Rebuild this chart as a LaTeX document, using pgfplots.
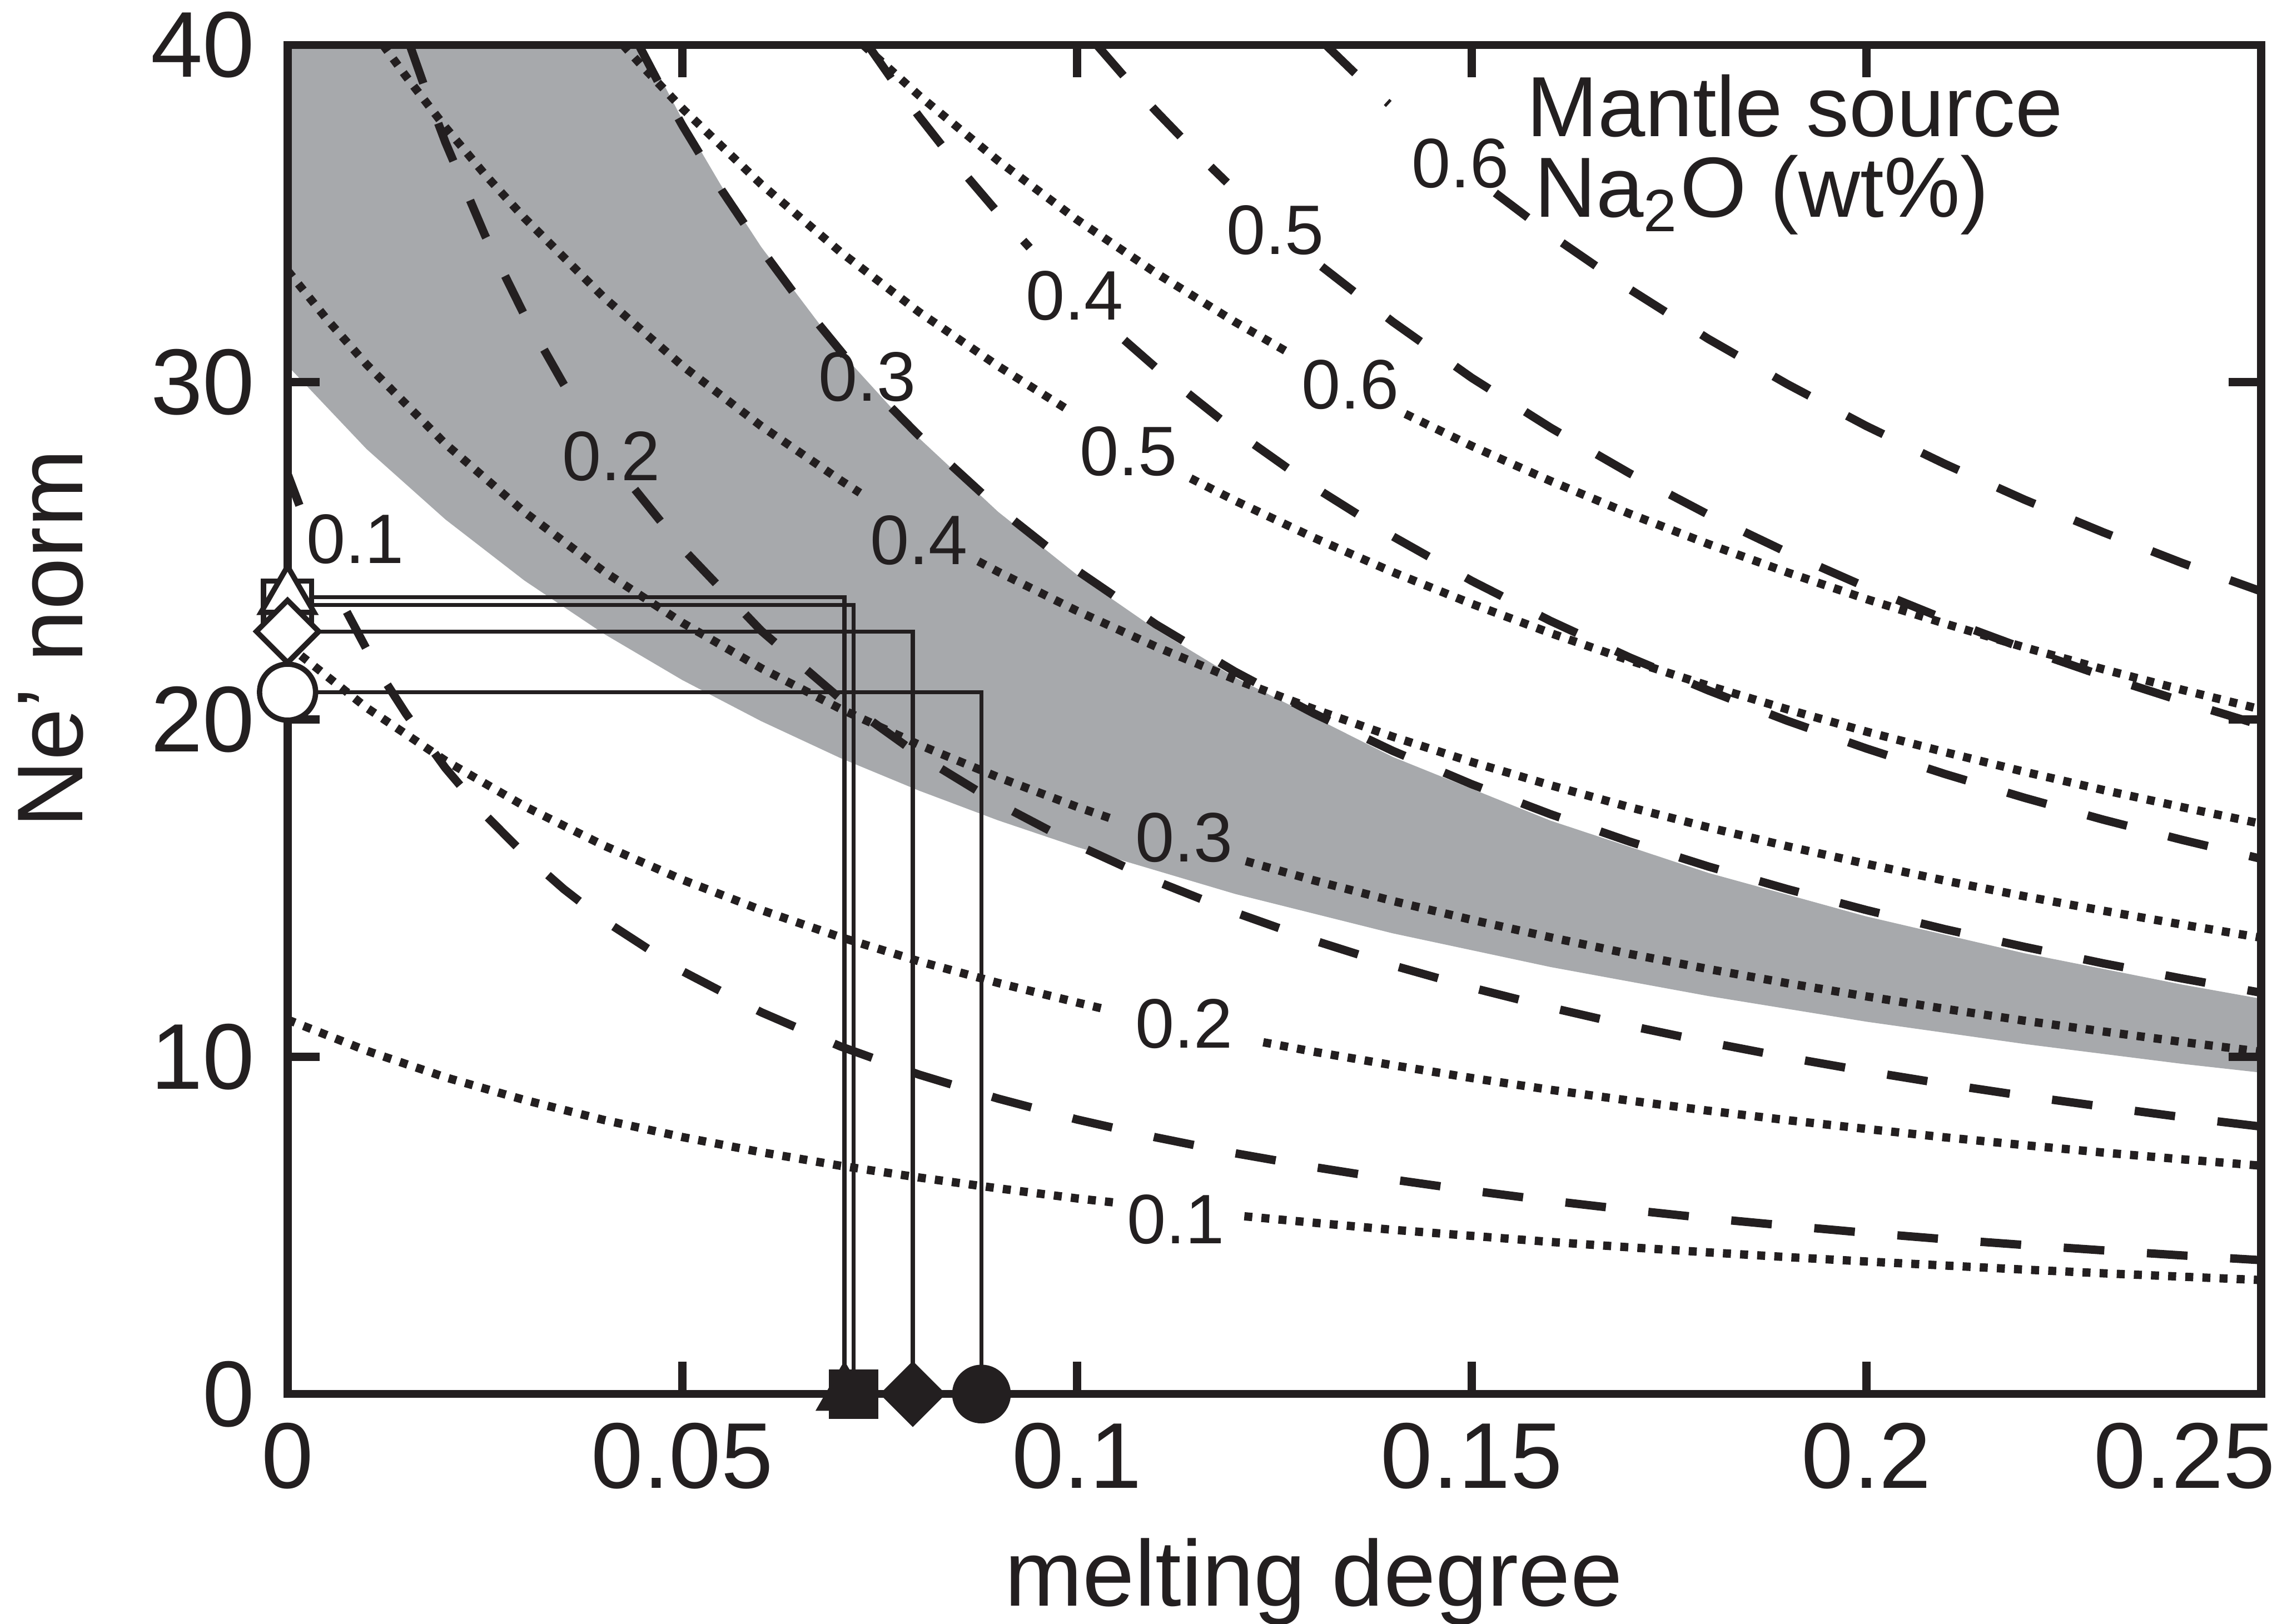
\documentclass[border=0pt]{standalone}
\usepackage{fontspec}
\setmainfont{Liberation Sans}
\usepackage{pgfplots}
\pgfplotsset{compat=1.18}

\definecolor{ink}{RGB}{35,31,32}
\definecolor{band}{RGB}{167,169,172}

\tikzset{
  dashcurve/.style={ink, line width=1.25pt, dash pattern=on 6.1pt off 6.4pt},
  dotcurve/.style={ink, line width=1.25pt, dash pattern=on 1.2pt off 1.37pt},
  link/.style={ink, line width=0.6pt},
  clabel/.style={font=\fontsize{10.5}{12}\selectfont, text=ink, inner sep=0pt},
  boxtext/.style={font=\fontsize{12.8}{14}\selectfont, text=ink, inner sep=0pt, anchor=base west},
}

\begin{document}
\begin{tikzpicture}
\begin{axis}[
  set layers=standard,
  scale only axis, width=10.397cm, height=7.109cm,
  xmin=0, xmax=0.25, ymin=0, ymax=40,
  axis line style={ink, line width=1.2pt},
  xtick={0,0.05,0.1,0.15,0.2}, xticklabels={0,0.05,0.1,0.15,0.2},
  extra x ticks={0.25}, extra x tick labels={0.25},
  extra x tick style={xticklabel style={anchor=north east, xshift=0.2cm}},
  ytick={0,10,20,30,40}, yticklabels={0,10,20,30,40},
  scaled x ticks=false,
  tick align=inside, major tick length=0.17cm,
  tick style={ink, line width=1.2pt},
  tick label style={font=\fontsize{14}{16}\selectfont, text=ink},
  xticklabel style={yshift=-0.8pt},
  yticklabel style={xshift=-1.4pt},
  xlabel={melting degree}, ylabel={Ne’ norm},
  label style={font=\fontsize{14}{16}\selectfont, text=ink},
  xlabel style={at={(axis description cs:0.52,-0.157)}, anchor=base},
  ylabel style={at={(axis description cs:-0.12,0.56)}, anchor=center},
  unbounded coords=jump,
]
\coordinate (sw) at (rel axis cs:0,0);
\coordinate (ne) at (rel axis cs:1,1);

% shaded field of the observed compositions
\addplot[on layer=axis background, fill=band, draw=none] coordinates {
 (0,40) (0.04503,40) (0.05,37.79) (0.055,35.80) (0.06,34.01) (0.07,30.91)
 (0.08,28.34) (0.09,26.16) (0.1,24.29) (0.11,22.67) (0.12,21.25) (0.14,18.89)
 (0.16,17.00) (0.18,15.45) (0.2,14.16) (0.22,13.07) (0.24,12.14) (0.25,11.72)
 (0.25,9.53) (0.24,9.79) (0.22,10.38) (0.2,11.04) (0.18,11.80) (0.16,12.66)
 (0.14,13.66) (0.12,14.83) (0.1,16.22) (0.09,17.01) (0.08,17.89) (0.07,18.86)
 (0.06,19.95) (0.05,21.17) (0.04,22.55) (0.03,24.12) (0.02,25.93) (0.01,28.02)
 (0,30.49)};

% dotted melting curves (source Na2O 0.1 ... 0.6 wt%)
\addplot[dotcurve] coordinates {
 (0,11.10) (0.01,10.18) (0.02,9.39) (0.03,8.72) (0.04,8.13) (0.05,7.62)
 (0.06,7.17) (0.07,6.77) (0.08,6.42) (0.09,6.10) (0.1,5.80) (0.1047,5.68)
 (0.113,nan) (0.1212,5.27) (0.13,5.08) (0.14,4.87) (0.15,4.69) (0.16,4.51)
 (0.17,4.35) (0.18,4.20) (0.19,4.06) (0.2,3.93) (0.21,3.81) (0.22,3.69)
 (0.23,3.58) (0.24,3.48) (0.25,3.38)};
\addplot[dotcurve] coordinates {
 (0,22.21) (0.01,20.35) (0.02,18.78) (0.03,17.43) (0.04,16.27) (0.05,15.25)
 (0.06,14.35) (0.07,13.55) (0.08,12.83) (0.09,12.19) (0.1,11.61) (0.1034,11.42)
 (0.113,nan) (0.1236,10.43) (0.13,10.15) (0.14,9.75) (0.15,9.37) (0.16,9.02)
 (0.17,8.70) (0.18,8.40) (0.19,8.12) (0.2,7.86) (0.21,7.61) (0.22,7.38)
 (0.23,7.16) (0.24,6.96) (0.25,6.77)};
\addplot[dotcurve] coordinates {
 (0,33.31) (0.005,31.86) (0.01,30.53) (0.02,28.17) (0.03,26.15) (0.04,24.40)
 (0.05,22.87) (0.06,21.52) (0.07,20.32) (0.08,19.25) (0.09,18.29) (0.1,17.41)
 (0.105,17.01) (0.113,nan) (0.1214,15.80) (0.13,15.23) (0.14,14.62) (0.15,14.06)
 (0.16,13.54) (0.17,13.05) (0.18,12.60) (0.19,12.18) (0.2,11.79) (0.21,11.42)
 (0.22,11.07) (0.23,10.75) (0.24,10.44) (0.25,10.15)};
\addplot[dotcurve] coordinates {
 (0.01209,40.00) (0.015,39.07) (0.02,37.56) (0.025,36.16) (0.03,34.87)
 (0.04,32.53) (0.05,30.49) (0.06,28.70) (0.07,27.10) (0.0725,26.72)
 (0.08,nan) (0.0875,24.69) (0.09,24.38) (0.1,23.22) (0.11,22.16) (0.12,21.19)
 (0.13,20.31) (0.14,19.49) (0.15,18.74) (0.16,18.05) (0.17,17.40) (0.18,16.80)
 (0.19,16.24) (0.2,15.72) (0.21,15.22) (0.22,14.76) (0.23,14.33) (0.24,13.92)
 (0.25,13.53)};
\addplot[dotcurve] coordinates {
 (0.04249,40.00) (0.045,39.35) (0.05,38.12) (0.06,35.87) (0.07,33.87)
 (0.08,32.08) (0.09,30.48) (0.0992,29.13) (0.107,nan) (0.1144,27.15)
 (0.12,26.49) (0.13,25.39) (0.14,24.37) (0.15,23.43) (0.16,22.56) (0.17,21.75)
 (0.18,21.00) (0.19,20.30) (0.2,19.64) (0.21,19.03) (0.22,18.45) (0.23,17.91)
 (0.24,17.40) (0.25,16.91)};
\addplot[dotcurve] coordinates {
 (0.07291,40.00) (0.08,38.50) (0.09,36.57) (0.1,34.82) (0.11,33.24)
 (0.12,31.79) (0.127,30.85) (0.134,nan) (0.1416,29.06) (0.15,28.11)
 (0.16,27.07) (0.17,26.10) (0.18,25.20) (0.19,24.36) (0.2,23.57) (0.21,22.84)
 (0.22,22.14) (0.23,21.49) (0.24,20.88) (0.25,20.30)};

% dashed melting curves (source Na2O 0.1 ... 0.6 wt%)
\addplot[dashcurve] coordinates {
 (0,27.28) (0.0015,26.35) (0.004,nan) (0.0075,23.19) (0.01,22.09) (0.0125,21.08)
 (0.015,20.17) (0.02,18.56) (0.025,17.18) (0.03,16.00) (0.035,14.97) (0.04,14.06)
 (0.05,12.54) (0.06,11.32) (0.07,10.31) (0.08,9.47) (0.09,8.76) (0.1,8.14)
 (0.11,7.61) (0.12,7.14) (0.13,6.73) (0.14,6.36) (0.15,6.03) (0.16,5.73)
 (0.17,5.46) (0.18,5.21) (0.19,4.99) (0.2,4.78) (0.21,4.59) (0.22,4.42)
 (0.23,4.26) (0.24,4.11) (0.25,3.97)};
\addplot[dashcurve] coordinates {
 (0.015482,40.00) (0.0175,38.66) (0.02,37.11) (0.025,34.36) (0.03,31.99)
 (0.035,29.93) (0.0365,29.36) (0.04,nan) (0.044,26.82) (0.05,25.08) (0.06,22.63)
 (0.07,20.62) (0.08,18.94) (0.09,17.51) (0.1,16.28) (0.11,15.21) (0.12,14.28)
 (0.13,13.45) (0.14,12.71) (0.15,12.05) (0.16,11.46) (0.17,10.92) (0.18,10.43)
 (0.19,9.98) (0.2,9.57) (0.21,9.19) (0.22,8.84) (0.23,8.52) (0.24,8.21)
 (0.25,7.93)};
\addplot[dashcurve] coordinates {
 (0.04449,40.00) (0.047,38.88) (0.05,37.62) (0.055,35.69) (0.06,33.95)
 (0.065,32.37) (0.0705,30.80) (0.0735,nan) (0.0765,29.24) (0.08,28.41)
 (0.09,26.27) (0.1,24.42) (0.11,22.82) (0.12,21.42) (0.13,20.18) (0.14,19.07)
 (0.15,18.08) (0.16,17.19) (0.17,16.38) (0.18,15.64) (0.19,14.97) (0.2,14.35)
 (0.21,13.78) (0.22,13.26) (0.23,12.77) (0.24,12.32) (0.25,11.90)};
\addplot[dashcurve] coordinates {
 (0.0735,40.00) (0.077,38.83) (0.08,37.88) (0.085,36.39) (0.09,35.02)
 (0.094,33.99) (0.1,nan) (0.106,31.25) (0.11,30.43) (0.12,28.56) (0.13,26.90)
 (0.14,25.43) (0.15,24.11) (0.16,22.92) (0.17,21.84) (0.18,20.86) (0.19,19.96)
 (0.2,19.14) (0.21,18.38) (0.22,17.68) (0.23,17.03) (0.24,16.43) (0.25,15.87)};
\addplot[dashcurve] coordinates {
 (0.10251,40.00) (0.106,39.06) (0.11,38.04) (0.115,36.83) (0.119,35.92)
 (0.125,nan) (0.131,33.43) (0.14,31.79) (0.15,30.13) (0.16,28.65) (0.17,27.30)
 (0.18,26.07) (0.19,24.95) (0.2,23.92) (0.21,22.97) (0.22,22.10) (0.23,21.29)
 (0.24,20.54) (0.25,19.83)};
\addplot[dashcurve] coordinates {
 (0.13152,40.00) (0.135,39.21) (0.1395,38.25) (0.146,nan) (0.153,35.61)
 (0.16,34.37) (0.17,32.76) (0.18,31.28) (0.19,29.94) (0.2,28.70) (0.21,27.57)
 (0.22,26.52) (0.23,25.55) (0.24,24.64) (0.25,23.80)};

% sample values read across to the melting degree
\addplot[link] coordinates {(0,23.63) (0.07054,23.63) (0.07054,0)};
\addplot[link] coordinates {(0,23.39) (0.0717,23.39) (0.0717,0)};
\addplot[link] coordinates {(0,22.61) (0.0792,22.61) (0.0792,0)};
\addplot[link] coordinates {(0,20.81) (0.0879,20.81) (0.0879,0)};

% open symbols on the Ne' axis
\addplot[only marks, mark=square*, mark size=3.6pt,
  mark options={draw=ink, fill=white, line width=0.8pt}] coordinates {(0,23.39)};
\addplot[only marks, mark=triangle*, mark size=4.6pt,
  mark options={draw=ink, fill=white, line width=0.8pt}] coordinates {(0,23.63)};
\addplot[only marks, mark=square*, mark size=3.3pt,
  mark options={draw=ink, fill=white, line width=0.8pt, rotate=45}] coordinates {(0,22.61)};
\addplot[only marks, mark=*, mark size=4.2pt,
  mark options={draw=ink, fill=white, line width=0.8pt}] coordinates {(0,20.81)};

% filled symbols on the melting-degree axis
\addplot[only marks, mark=triangle*, mark size=4.6pt,
  mark options={draw=ink, fill=ink}] coordinates {(0.07054,0)};
\addplot[only marks, mark=square*, mark size=3.5pt,
  mark options={draw=ink, fill=ink}] coordinates {(0.0717,0)};
\addplot[only marks, mark=square*, mark size=3.3pt,
  mark options={draw=ink, fill=ink, rotate=45}] coordinates {(0.0792,0)};
\addplot[only marks, mark=*, mark size=4.2pt,
  mark options={draw=ink, fill=ink}] coordinates {(0.0879,0)};

% curve labels
\node[clabel] at (axis cs:0.1125,5.17) {0.1};
\node[clabel] at (axis cs:0.1136,10.98) {0.2};
\node[clabel] at (axis cs:0.1136,16.49) {0.3};
\node[clabel] at (axis cs:0.0800,25.32) {0.4};
\node[clabel] at (axis cs:0.1065,27.95) {0.5};
\node[clabel] at (axis cs:0.1346,29.93) {0.6};
\node[clabel] at (axis cs:0.0086,25.34) {0.1};
\node[clabel] at (axis cs:0.0410,27.80) {0.2};
\node[clabel] at (axis cs:0.0734,30.15) {0.3};
\node[clabel] at (axis cs:0.0997,32.56) {0.4};
\node[clabel] at (axis cs:0.1251,34.50) {0.5};
\node[clabel] at (axis cs:0.1486,36.48) {0.6};

\node[boxtext] at (axis cs:0.1568,37.28) {Mantle source};
\node[boxtext] at (axis cs:0.1578,34.89) {Na\textsubscript{2}O (wt\%)};
\end{axis}
\pgfresetboundingbox
\path[use as bounding box] ([shift={(-1.515cm,-1.209cm)}]sw) rectangle ([shift={(0.084cm,0.237cm)}]ne);
\end{tikzpicture}
\end{document}
